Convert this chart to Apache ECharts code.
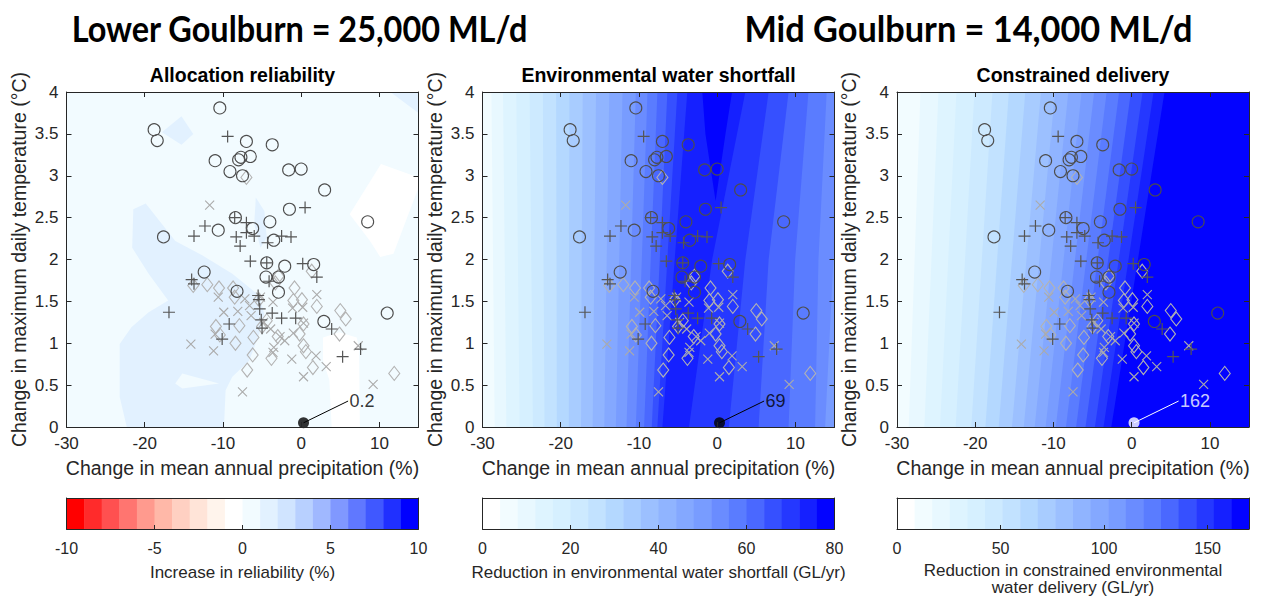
<!DOCTYPE html>
<html><head><meta charset="utf-8">
<script src="https://cdn.jsdelivr.net/npm/echarts@6/dist/echarts.min.js"></script>
<style>html,body{margin:0;padding:0;background:#fff}#c{width:1262px;height:604px}</style>
</head><body><div id="c"></div>
<script>
// ---------------- DATA ----------------
const groupTitles = ['Lower Goulburn = 25,000 ML/d', 'Mid Goulburn = 14,000 ML/d'];
const panelTitles = ['Allocation reliability', 'Environmental water shortfall', 'Constrained delivery'];
const xAxisTitle = 'Change in mean annual precipitation (%)';
const yAxisTitle = 'Change in maximum daily temperature (°C)';
const colorbarTitles = ['Increase in reliability (%)', 'Reduction in environmental water shortfall (GL/yr)', 'Reduction in constrained environmental\nwater delivery (GL/yr)'];
const xRange = [-30, 15];
const yRange = [0, 4];
const colorbarRanges = [[-10, 10], [0, 80], [0, 170]];
const colorbarIntervals = [5, 20, 50];
const baselinePoint = [0.3, 0.05];
const labelLinkEnd = [6.0, 0.31];
const baselineLabels = ['0.2', '69', '162'];

// GCM scenarios (precip change %, temperature change °C), four marker groups
const circlePts = [[-10.4,3.81],[-18.8,3.55],[-18.4,3.42],[-7.0,3.41],[-3.7,3.37],[-11.0,3.18],[-8.0,3.19],[-7.7,3.22],[-6.5,3.23],[-9.1,3.05],[-7.5,3.0],[-1.6,3.07],[0.0,3.08],[3.0,2.83],[-1.5,2.6],[-8.4,2.5],[-4.0,2.45],[-6.2,2.37],[-10.6,2.35],[8.5,2.45],[-17.6,2.27],[-3.5,2.23],[-4.4,1.96],[-2.1,1.92],[1.6,1.94],[-12.4,1.85],[-4.5,1.79],[-2.9,1.79],[-8.2,1.62],[-2.9,1.61],[2.9,1.26],[11.0,1.36]];
const plusPts = [[-9.4,3.47],[0.5,2.62],[-8.5,2.5],[-7.0,2.44],[-12.3,2.40],[-13.7,2.28],[-8.3,2.27],[-7.0,2.32],[-6.0,2.28],[-7.8,2.16],[-4.3,2.2],[-2.5,2.28],[-1.3,2.27],[-6.5,1.98],[-4.4,1.96],[0.2,1.95],[2.0,1.79],[-14.0,1.76],[-13.7,1.71],[-4.1,1.74],[-16.9,1.37],[-5.5,1.57],[-5.4,1.52],[-5.3,1.41],[-3.7,1.36],[-2.5,1.30],[-0.7,1.30],[-9.2,1.23],[-5.0,1.18],[-5.1,1.28],[3.9,1.17],[-10.1,1.05],[7.6,0.93],[5.3,0.84]];
const crossPts = [[-11.7,2.65],[-10.6,1.55],[-9.9,1.37],[-8.1,1.38],[-6.4,1.33],[-7.2,1.53],[-5.2,1.55],[-3.6,1.49],[-1.1,1.42],[0.2,1.43],[2.0,1.58],[0.3,1.24],[-3.9,1.17],[-2.7,1.08],[-2.1,1.03],[-3.5,0.95],[-1.2,0.81],[0.3,0.60],[1.9,0.85],[3.2,0.72],[-11.2,0.91],[-14.1,0.99],[-7.5,0.42],[9.2,0.51],[7.3,0.97],[-11.0,1.11],[-3.6,0.89],[-6.6,1.45],[-4.8,1.25],[-1.0,1.12]];
const diamondPts = [[-7.0,2.98],[-13.8,1.69],[-12.0,1.70],[-10.5,1.66],[-8.7,1.66],[-8.5,1.55],[-2.9,1.80],[-3.3,1.72],[1.35,1.86],[-0.85,1.66],[0.1,1.52],[2.0,1.44],[5.0,1.39],[5.7,1.29],[4.9,1.11],[0.3,1.23],[-0.2,1.11],[0.3,0.97],[0.6,0.90],[1.5,0.71],[11.9,0.64],[-10.9,1.20],[-10.4,1.10],[-7.9,1.21],[-8.4,1.00],[-6.1,1.07],[-5.0,1.20],[-6.2,0.86],[-6.9,0.68],[-3.8,0.82],[-3.0,1.08],[-4.4,1.27],[-5.4,1.52],[-1.0,1.51]];

// Contour regions of panel 1 (level index: 9 = -1..0, 10 = 0..1, 11 = 1..2)
const p1BaseLevel = 10;
const p1Regions = [
  {level: 11, pts: [[-21.46,2.60],[-19.87,2.67],[-16.09,2.22],[-12.66,2.05],[-8.80,1.83],[-5.36,1.57],[-4.72,1.35],[-5.36,1.11],[-6.65,0.79],[-8.80,0.60],[-9.66,0.44],[-9.87,0],[-22.3,0],[-23.2,0.36],[-23.2,0.99],[-21.7,1.19],[-19.5,1.37],[-17.0,1.51],[-19.5,1.83],[-21.6,2.14]]},
  {level: 10, pts: [[-15.2,0.64],[-10.5,0.52],[-15.2,0.46],[-16.1,0.52]]},
  {level: 9, pts: [[2.8,1.07],[4.9,1.13],[7.1,1.07],[7.4,0.95],[7.5,0],[3.9,0],[3.6,0.56],[2.8,0.79]]},
  {level: 9, pts: [[6.2,2.54],[10.2,3.14],[15,2.98],[15,2.86],[11.8,2.07],[10.1,2.03],[8.8,2.22]]},
  {level: 11, pts: [[-17.8,3.52],[-15.3,3.71],[-13.8,3.50],[-15.3,3.37]]},
  {level: 11, pts: [[-5.8,2.74],[-4.7,2.58],[-4.4,2.26],[-5.2,2.14],[-6.0,2.42]]},
  {level: 11, pts: [[11.4,4],[15,4],[15,3.75]]}
];
// Panel 2 contour lines: x at y = 0, 2, 4
const p2Ys = [0, 2, 4];
const p2RisingLines = [[-28.44,-28.65,-28.86],[-26.95,-27.16,-27.38],[-25.25,-25.47,-25.68],[-23.56,-23.77,-23.98],[-22.07,-22.20,-22.28],[-20.50,-20.54,-20.59],[-18.97,-18.93,-18.89],[-17.40,-17.32,-17.19],[-15.92,-15.70,-15.49],[-14.43,-14.13,-13.79],[-12.95,-12.52,-12.10],[-11.59,-10.99,-10.40],[-10.40,-9.63,-8.91],[-9.34,-8.49,-7.64],[-8.36,-7.34,-6.37],[-7.64,-6.37,-5.09],[-7.00,-5.43,-3.82]];
const p2FallingLines = [[-3.60,-0.64,3.60],[1.49,3.60,6.58],[5.30,6.58,9.13],[9.13,9.97,11.67],[12.52,12.95,14.0],[13.8,14.86,15.9]];
const p2Peak = [[-1.9,4],[-1.5,3.5],[-0.2,2.7],[1.06,3.5],[1.9,4]];
// Panel 3 contour lines: x at y = 0, 4
const p3Ys = [0, 4];
const p3Lines = [[-28.5,-27.0],[-26.5,-24.7],[-24.5,-22.4],[-22.5,-20.1],[-20.5,-17.8],[-18.7,-15.7],[-17.0,-13.6],[-15.3,-11.6],[-13.8,-9.8],[-12.4,-8.1],[-11.0,-6.4],[-9.7,-4.8],[-8.4,-3.2],[-7.1,-1.6],[-5.9,-0.1],[-4.7,1.4],[-3.6,2.8],[-2.6,4.2]];

// ---------------- STYLE ----------------
const divColors = ['#ff0000','#ff2b2b','#ff5050','#ff7570','#ff9a8e','#ffb8a8','#ffd0c2','#ffe4d8','#fff4ec','#ffffff','#f2fbff','#e2f1ff','#d0e4ff','#b8d0ff','#a0b8ff','#8098ff','#6078ff','#4058ff','#2030ff','#0000ff'];
const blueColors = ['#ffffff','#f2fcff','#e8f8ff','#def4ff','#d6f0ff','#cdeaff','#c2e2ff','#b4d8ff','#a8ccff','#9cc0ff','#90b4ff','#84a8ff','#789cff','#6a8cff','#5a7cff','#4a68ff','#3650ff','#2538ff','#1520ff','#0303ff'];
const cmaps = [divColors, blueColors, blueColors];
const FONT = '"Liberation Sans", Arial, Helvetica, sans-serif';
const TXT = '#262626';
const plotLefts = [66.5, 482.5, 897];
const PW = 352, PT = 92, PH = 335, CBT = 498, CBH = 31;

// ---------------- BUILD ----------------
const fullRect = [[xRange[0], yRange[0]], [xRange[1], yRange[0]], [xRange[1], yRange[1]], [xRange[0], yRange[1]]];
function bandPts(line, ys) {
  const pts = line.map((x, j) => [x, ys[j]]);
  pts.push([xRange[1] + 5, ys[ys.length - 1]], [xRange[1] + 5, ys[0]]);
  return pts;
}
const fields = [
  [{level: p1BaseLevel, pts: fullRect}].concat(p1Regions),
  [{level: 1, pts: fullRect}]
    .concat(p2RisingLines.map((l, i) => ({level: i + 2, pts: bandPts(l, p2Ys)})))
    .concat(p2FallingLines.map((l, i) => ({level: 17 - i, pts: bandPts(l, p2Ys)})))
    .concat([{level: 19, pts: p2Peak}]),
  [{level: 1, pts: fullRect}].concat(p3Lines.map((l, i) => ({level: i + 2, pts: bandPts(l, p3Ys)})))
];

const grid = [];
plotLefts.forEach(l => grid.push({left: l, top: PT, width: PW, height: PH, outerBoundsMode: 'none', containLabel: false}));
plotLefts.forEach(l => grid.push({left: l, top: CBT, width: PW, height: CBH, outerBoundsMode: 'none', containLabel: false}));

const xAxis = [], yAxis = [];
const lineStyle = {color: TXT, width: 1};
for (let p = 0; p < 3; p++) {
  [true, false].forEach(bottom => xAxis.push({
    type: 'value', gridIndex: p, position: bottom ? 'bottom' : 'top', min: xRange[0], max: xRange[1], interval: 10, z: 10,
    axisLine: {show: true, onZero: false, lineStyle},
    axisTick: {show: true, inside: true, length: 5, lineStyle},
    axisLabel: {show: bottom, fontSize: 17, color: TXT, fontFamily: FONT, margin: 8, formatter: v => v === xRange[1] ? '' : String(v)},
    splitLine: {show: false},
    name: bottom ? xAxisTitle : '', nameLocation: 'middle', nameGap: 31,
    nameTextStyle: {fontSize: 19.5, color: TXT, fontFamily: FONT}
  }));
  [true, false].forEach(left => yAxis.push({
    type: 'value', gridIndex: p, position: left ? 'left' : 'right', min: yRange[0], max: yRange[1], interval: 0.5, z: 10,
    axisLine: {show: true, onZero: false, lineStyle},
    axisTick: {show: true, inside: true, length: 5, lineStyle},
    axisLabel: {show: left, fontSize: 17, color: TXT, fontFamily: FONT, margin: 8},
    splitLine: {show: false},
    name: left ? yAxisTitle : '', nameLocation: 'middle', nameGap: 38, nameRotate: 90,
    nameTextStyle: {fontSize: 19.5, color: TXT, fontFamily: FONT}
  }));
}
for (let p = 0; p < 3; p++) {
  const g = 3 + p, r = colorbarRanges[p];
  [true, false].forEach(bottom => xAxis.push({
    type: 'value', gridIndex: g, position: bottom ? 'bottom' : 'top', min: r[0], max: r[1], interval: colorbarIntervals[p], z: 10,
    axisLine: {show: true, onZero: false, lineStyle},
    axisTick: {show: bottom, inside: true, length: 4, lineStyle},
    axisLabel: {show: bottom, fontSize: 16, color: TXT, fontFamily: FONT, margin: 11, formatter: v => (v - r[0]) % colorbarIntervals[p] === 0 ? String(v) : ''},
    splitLine: {show: false},
    name: bottom ? colorbarTitles[p] : '', nameLocation: 'middle', nameGap: p === 2 ? 33 : 35,
    nameTextStyle: {fontSize: 17, color: TXT, fontFamily: FONT, lineHeight: 17}
  }));
  [true, false].forEach(left => yAxis.push({
    type: 'value', gridIndex: g, position: left ? 'left' : 'right', min: 0, max: 1, z: 10,
    axisLine: {show: true, onZero: false, lineStyle}, axisTick: {show: false}, axisLabel: {show: false}, splitLine: {show: false}
  }));
}

const plusSym = 'path://M0,6L12,6M6,0L6,12';
const crossSym = 'path://M0,0L10,10M0,10L10,0';
function markers(xi, yi, pts, symbol, size, color, width) {
  return {type: 'scatter', xAxisIndex: xi, yAxisIndex: yi, data: pts, symbol, symbolSize: size, silent: true, z: 4,
    itemStyle: {color: 'rgba(0,0,0,0)', borderColor: color, borderWidth: width, opacity: 1}};
}
const series = [];
for (let p = 0; p < 3; p++) {
  const xi = 2 * p, yi = 2 * p, field = fields[p], cmap = cmaps[p];
  series.push({type: 'custom', xAxisIndex: xi, yAxisIndex: yi, clip: true, silent: true, z: 1,
    data: field.map(() => [0, 0]),
    renderItem: (params, api) => {
      const reg = field[params.dataIndex];
      return {type: 'polygon', shape: {points: reg.pts.map(pt => api.coord(pt))}, style: {fill: cmap[reg.level]}};
    }});
  series.push(markers(xi, yi, diamondPts, 'diamond', [11, 14], '#b3b3b3', 1.1));
  series.push(markers(xi, yi, crossPts, crossSym, 9, '#ababab', 1.1));
  series.push(markers(xi, yi, circlePts, 'circle', 12, '#4d4d4d', 1.1));
  series.push(markers(xi, yi, plusPts, plusSym, 12, '#555555', 1.2));
  const bc = p === 2 ? '#ffffff' : '#000000';
  series.push({type: 'line', xAxisIndex: xi, yAxisIndex: yi, data: [baselinePoint, labelLinkEnd], symbol: 'none', silent: true, z: 5,
    lineStyle: {color: bc, width: 1}});
  series.push({type: 'scatter', xAxisIndex: xi, yAxisIndex: yi, data: [baselinePoint], symbol: 'circle', symbolSize: 11, silent: true, z: 6,
    itemStyle: {color: bc}});
  series.push({type: 'scatter', xAxisIndex: xi, yAxisIndex: yi, data: [labelLinkEnd], symbolSize: 1, silent: true, z: 6,
    itemStyle: {color: 'rgba(0,0,0,0)'},
    label: {show: true, position: 'right', distance: 1, formatter: baselineLabels[p], fontSize: 18, color: bc, fontFamily: FONT}});
}
for (let p = 0; p < 3; p++) {
  const r = colorbarRanges[p], n = cmaps[p].length, step = (r[1] - r[0]) / n;
  const cm = cmaps[p];
  series.push({type: 'custom', xAxisIndex: 6 + 2 * p, yAxisIndex: 6 + 2 * p, clip: true, silent: true, z: 1,
    data: cm.map((c, i) => [r[0] + i * step, r[0] + (i + 1) * step]),
    renderItem: (params, api) => {
      const a = api.coord([api.value(0), 1]), b = api.coord([api.value(1), 0]);
      return {type: 'rect', shape: {x: a[0], y: a[1], width: b[0] - a[0] + 0.5, height: b[1] - a[1]}, style: {fill: cm[params.dataIndex]}};
    }});
}

const graphic = [];
const titleCenters = [299.5, 968.5], titleScales = [0.877, 0.927];
titleCenters.forEach((x, i) => graphic.push({type: 'text', x, y: 27.5, scaleX: titleScales[i], z: 20,
  style: {text: groupTitles[i], font: 'bold 37px Lato, "Open Sans", sans-serif', fill: '#000', textAlign: 'center', textVerticalAlign: 'middle'}}));
plotLefts.forEach((l, i) => graphic.push({type: 'text', x: l + PW / 2, y: 75, z: 20,
  style: {text: panelTitles[i], font: 'bold 19.5px ' + FONT, fill: '#000', textAlign: 'center', textVerticalAlign: 'middle'}}));

const chart = echarts.init(document.getElementById('c'), null, {renderer: 'svg', width: 1262, height: 604});
chart.setOption({animation: false, backgroundColor: '#ffffff', grid, xAxis, yAxis, series, graphic});
</script></body></html>
